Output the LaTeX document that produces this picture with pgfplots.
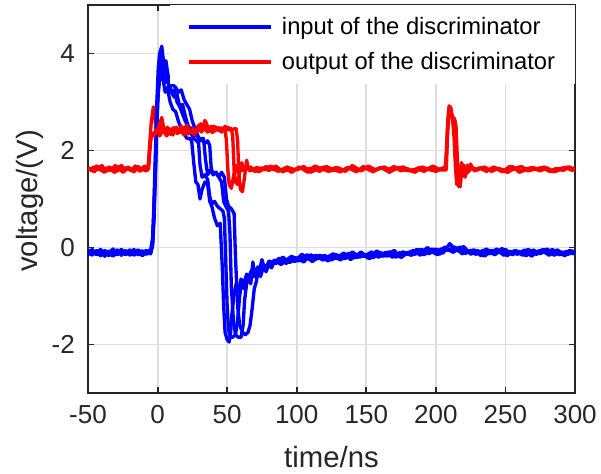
\documentclass[border=0pt]{standalone}
\usepackage{fontspec}
\setmainfont{Liberation Sans}
\usepackage{pgfplots}
\pgfplotsset{compat=1.18}

\definecolor{axgray}{RGB}{38,38,38}
\definecolor{gridgray}{RGB}{222,222,222}
\definecolor{tblue}{RGB}{0,0,255}
\definecolor{tred}{RGB}{255,0,0}

\begin{document}
\begin{tikzpicture}
\begin{axis}[
    name=ax,
    scale only axis,
    width=365.25pt, height=291pt,
    xmin=-50, xmax=300, ymin=-3, ymax=5,
    xtick={-50,0,50,100,150,200,250,300},
    xticklabels={-50,0,50,100,150,200,250,300},
    ytick={-2,0,2,4},
    yticklabels={-2,0,2,4},
    tick align=inside,
    major tick length=4.5pt,
    tick style={line width=1.4pt, color=axgray},
    axis line style={line width=1.6pt, color=axgray},
    grid=major,
    major grid style={line width=1.4pt, color=gridgray},
    ticklabel style={font=\fontsize{19.5}{22}\selectfont, color=axgray},
    xticklabel style={anchor=base, yshift=-22.8pt},
    yticklabel style={anchor=east, inner xsep=0pt, xshift=-9.75pt},
    xlabel={time/ns},
    ylabel={voltage/(V)},
    label style={font=\fontsize{22}{26}\selectfont, color=axgray},
    xlabel style={at={(axis description cs:0.5,-0.193)}, anchor=base},
    ylabel style={at={(axis description cs:-0.119,0.495)}, anchor=center},
    legend style={at={(1,1)}, anchor=north east, draw=none, fill=white,
        font=\fontsize{17.8}{20}\selectfont,
        inner xsep=12.75pt, inner ysep=7pt, row sep=7.75pt,
        cells={anchor=west, inner xsep=0pt, inner ysep=0pt, text height=13pt, text depth=4pt},
        /tikz/every odd column/.append style={column sep=5.25pt}},
    legend image code/.code={\draw[#1] (0pt,0pt) -- (61.5pt,0pt);},
    every axis plot/.append style={line width=2.5pt, line join=round},
]

% input of the discriminator, shot 1
\addplot[color=tblue] coordinates {
(-50,-0.05)(-47,-0.14)(-44,-0.08)(-41,-0.17)(-38,-0.06)(-35,-0.12)(-32,-0.03)(-29,-0.15)
(-26,-0.09)(-23,-0.13)(-20,-0.05)(-17,-0.16)(-14,-0.1)(-11,-0.07)(-8,-0.14)(-5,-0.08)
(-4,0)(-3,0.45)(-2,1.3)(-1,2.2)(0,3.0)(1,3.4)(2.5,3.6)(4,3.45)(5.5,3.2)(7,3.3)(9,3.0)
(11,2.85)(13,2.8)(15,2.6)(17,2.45)(19,2.35)(21,2.25)(23,2.25)(24.5,2.2)(26,1.75)(27.5,1.35)
(29,1.3)(30.5,1.0)(32,1.2)(34,1.35)(36,1.3)(37.5,0.95)(39,0.85)(41,0.6)(43,0.45)(45,0.5)
(46.5,-0.4)(47.5,-1.2)(48.5,-1.75)(50,-1.9)(51.5,-1.95)(52.5,-1.75)(53.5,-1.35)(55,-0.95)
(56.5,-0.75)(58,-0.9)(60,-0.65)(62,-0.75)(64,-0.55)(66,-0.6)(68,-0.45)(70,-0.55)(72,-0.4)
(74,-0.48)(76,-0.35)(78,-0.42)
(80,-0.28)(85,-0.33)(90,-0.20)(95,-0.31)(100,-0.21)(105,-0.30)(110,-0.15)(115,-0.23)
(120,-0.16)(125,-0.26)(130,-0.16)(135,-0.23)(140,-0.09)(145,-0.20)(150,-0.15)(155,-0.21)
(160,-0.10)(165,-0.18)(170,-0.06)(175,-0.21)(180,-0.10)(185,-0.14)(190,-0.04)(195,-0.13)
(200,-0.03)(205,-0.12)(210,0.08)(215,-0.07)(220,0.02)(225,-0.14)(230,-0.06)(235,-0.18)
(240,-0.06)(245,-0.11)(250,-0.04)(255,-0.15)(260,-0.08)(265,-0.17)(270,-0.05)(275,-0.13)
(280,-0.03)(285,-0.16)(290,-0.09)(295,-0.14)(300,-0.07)
};
\addlegendentry{input of the discriminator}

% output of the discriminator, shot 1
\addplot[color=tred] coordinates {
(-50,1.65)(-47,1.58)(-44,1.68)(-41,1.6)(-38,1.55)(-35,1.66)(-32,1.62)(-29,1.57)(-26,1.69)
(-23,1.6)(-20,1.64)(-17,1.56)(-14,1.67)(-11,1.61)(-8,1.58)
(-6.5,1.7)(-5.5,2.2)(-4.5,2.6)(-3,2.9)(-2,2.7)(-1,2.45)(0,2.35)(2,2.5)(4.5,2.38)(7,2.48)
(9.5,2.33)(12,2.45)(14.5,2.36)(17,2.5)(19.5,2.4)(22,2.34)(24.5,2.47)(27,2.38)(29.5,2.52)
(32,2.4)(34.5,2.6)(37,2.42)(39.5,2.37)(42,2.48)(44.5,2.4)(47,2.46)(48.5,2.42)(49.5,2.2)
(50.5,1.6)(51.5,1.3)(53,1.22)(54.5,1.45)(56,1.7)(57.5,1.55)(59,1.65)(61,1.58)
(65,1.66)(70,1.57)(75,1.64)(80,1.59)(85,1.68)(90,1.56)(95,1.63)(100,1.6)(105,1.67)(110,1.55)
(115,1.62)(120,1.66)(125,1.58)(130,1.64)(135,1.57)(140,1.69)(145,1.6)(150,1.63)(155,1.56)
(160,1.65)(165,1.59)(170,1.67)(175,1.58)(180,1.62)(185,1.55)(190,1.66)(195,1.61)(200,1.57)
(205,1.64)
(206.5,1.62)(207.5,1.9)(208.5,2.6)(209.5,2.92)(211,2.85)(212,2.6)(213,2.55)(214.5,2.2)
(215.5,1.5)(216.5,1.25)(217.5,1.5)(218.5,1.75)(219.5,1.55)(221,1.45)(222.5,1.7)(224,1.58)
(226,1.65)
(230,1.6)(235,1.66)(240,1.57)(245,1.63)(250,1.59)(255,1.67)(260,1.55)(265,1.62)(270,1.65)
(275,1.58)(280,1.64)(285,1.56)(290,1.61)(295,1.66)(300,1.6)
};
\addlegendentry{output of the discriminator}

% input, shot 2
\addplot[color=tblue, forget plot] coordinates {
(-50,-0.12)(-47,-0.04)(-44,-0.15)(-41,-0.09)(-38,-0.18)(-35,-0.07)(-32,-0.13)(-29,-0.05)
(-26,-0.16)(-23,-0.08)(-20,-0.12)(-17,-0.04)(-14,-0.15)(-11,-0.11)(-8,-0.06)(-5,-0.12)
(-3.5,0.1)(-2.5,0.8)(-1.5,1.8)(-0.5,2.8)(0.5,3.5)(2,3.8)(3.5,3.95)(5,3.6)(6.5,3.65)(8,3.35)
(10,3.2)(12,3.25)(14,3.0)(16,2.9)(18,2.95)(20,2.7)(22,2.5)(24,2.35)(26,2.25)(28,2.2)
(29.5,2.15)(30.5,1.7)(32,1.45)(34,1.5)(36,1.4)(37.5,1.05)(39,0.9)(41,0.95)(43,0.85)(45,0.8)
(47,0.75)(48,0.6)(49,-0.3)(50,-1.2)(51,-1.7)(52.5,-1.85)(54,-1.85)(56,-1.8)(57.5,-1.5)
(59,-1.0)(60.5,-0.7)(62,-0.85)(63.5,-0.6)(65,-0.7)(67,-0.5)(69,-0.6)(71,-0.45)(73,-0.5)
(75,-0.25)(77,-0.45)(79,-0.36)
(81.25,-0.39)(86.25,-0.26)(91.25,-0.29)(96.25,-0.18)(101.25,-0.28)(106.25,-0.18)
(111.25,-0.29)(116.25,-0.16)(121.25,-0.21)(126.25,-0.13)(131.25,-0.26)(136.25,-0.16)
(141.25,-0.21)(146.25,-0.09)(151.25,-0.22)(156.25,-0.12)(161.25,-0.18)(166.25,-0.09)
(171.25,-0.20)(176.25,-0.09)(181.25,-0.14)(186.25,-0.04)(191.25,-0.15)(196.25,-0.07)
(201.25,-0.15)(206.25,0.01)(211.25,-0.07)(216.25,-0.01)(221.25,-0.12)(226.25,-0.06)
(231.25,-0.14)(236.25,-0.03)(241.25,-0.12)(246.25,-0.05)(251.25,-0.17)(256.25,-0.07)
(261.25,-0.14)(266.25,-0.04)(271.25,-0.11)(276.25,-0.05)(281.25,-0.16)(286.25,-0.08)
(291.25,-0.15)(296.25,-0.06)(300,-0.12)
};

% input, shot 3
\addplot[color=tblue, forget plot] coordinates {
(-50,-0.09)(-47,-0.16)(-44,-0.06)(-41,-0.13)(-38,-0.1)(-35,-0.17)(-32,-0.08)(-29,-0.12)
(-26,-0.04)(-23,-0.15)(-20,-0.09)(-17,-0.13)(-14,-0.07)(-11,-0.17)(-8,-0.1)(-5,-0.05)
(-3.5,0.2)(-2.5,1.0)(-1.5,2.0)(-0.5,3.0)(0.5,3.7)(1.5,4.0)(3,4.15)(4,3.9)(5,3.75)(6,3.85)
(7.5,3.55)(9,3.5)(11,3.35)(13,3.3)(15,3.2)(17,3.25)(19,3.05)(21,2.95)(23,2.85)(25,2.6)
(27,2.45)(29,2.3)(31,2.2)(33,2.25)(34.5,1.8)(36,1.5)(38,1.6)(40,1.5)(42,1.55)(44,1.45)
(46,1.35)(47.5,0.95)(49,0.85)(51,0.75)(52,0.3)(53,-0.8)(54.5,-1.5)(56,-1.8)(58,-1.85)
(60,-1.85)(61.5,-1.6)(62.5,-1.1)(64,-0.75)(65.5,-0.6)(67,-0.75)(68.5,-0.3)(70,-0.6)
(72,-0.5)(74,-0.55)(76,-0.4)(78,-0.45)(80,-0.35)
(82.5,-0.34)(87.5,-0.22)(92.5,-0.33)(97.5,-0.20)(102.5,-0.25)(107.5,-0.15)(112.5,-0.26)
(117.5,-0.18)(122.5,-0.28)(127.5,-0.14)(132.5,-0.20)(137.5,-0.12)(142.5,-0.21)(147.5,-0.15)
(152.5,-0.23)(157.5,-0.07)(162.5,-0.18)(167.5,-0.09)(172.5,-0.19)(177.5,-0.12)(182.5,-0.16)
(187.5,-0.04)(192.5,-0.11)(197.5,-0.03)(202.5,-0.14)(207.5,-0.02)(212.5,-0.10)(217.5,0.01)
(222.5,-0.08)(227.5,-0.05)(232.5,-0.17)(237.5,-0.08)(242.5,-0.15)(247.5,-0.02)(252.5,-0.13)
(257.5,-0.06)(262.5,-0.16)(267.5,-0.09)(272.5,-0.14)(277.5,-0.04)(282.5,-0.12)(287.5,-0.05)
(292.5,-0.17)(297.5,-0.07)(300,-0.1)
};

% input, shot 4
\addplot[color=tblue, forget plot] coordinates {
(-50,-0.15)(-47,-0.08)(-44,-0.12)(-41,-0.04)(-38,-0.14)(-35,-0.1)(-32,-0.18)(-29,-0.09)
(-26,-0.13)(-23,-0.06)(-20,-0.16)(-17,-0.1)(-14,-0.05)(-11,-0.12)(-8,-0.09)(-5,-0.13)
(-3.5,0.05)(-2.5,0.6)(-1.5,1.5)(-0.5,2.5)(0.5,3.2)(2,3.6)(3.5,3.75)(5,3.5)(6.5,3.4)(8,3.45)
(10,3.2)(12,3.1)(14,3.15)(16,2.9)(18,2.75)(20,2.6)(22,2.5)(24,2.4)(26,2.3)(28,2.35)(30,2.2)
(32,2.25)(34,2.15)(36,2.2)(37.5,2.1)(38.5,1.65)(40,1.5)(42,1.55)(44,1.45)(46,1.55)(48,1.45)
(49.5,1.0)(51,0.85)(53,0.8)(55,0.7)(56,-0.2)(57.5,-1.2)(59,-1.6)(61,-1.75)(63,-1.8)
(65,-1.75)(66.5,-1.6)(68,-1.25)(69.5,-0.85)(71,-0.7)(72.5,-0.45)(74,-0.6)(76,-0.4)(78,-0.5)
(80,-0.35)(82,-0.42)
(83.75,-0.26)(88.75,-0.35)(93.75,-0.24)(98.75,-0.29)(103.75,-0.14)(108.75,-0.24)
(113.75,-0.16)(118.75,-0.26)(123.75,-0.18)(128.75,-0.23)(133.75,-0.11)(138.75,-0.25)
(143.75,-0.14)(148.75,-0.18)(153.75,-0.09)(158.75,-0.20)(163.75,-0.10)(168.75,-0.20)
(173.75,-0.11)(178.75,-0.13)(183.75,-0.06)(188.75,-0.16)(193.75,0.0)(198.75,-0.11)
(203.75,-0.03)(208.75,-0.06)(213.75,0.01)(218.75,-0.13)(223.75,-0.07)(228.75,-0.14)
(233.75,-0.06)(238.75,-0.13)(243.75,-0.03)(248.75,-0.16)(253.75,-0.08)(258.75,-0.14)
(263.75,-0.05)(268.75,-0.18)(273.75,-0.07)(278.75,-0.11)(283.75,-0.04)(288.75,-0.15)
(293.75,-0.08)(298.75,-0.13)(300,-0.1)
};

% output, shot 2
\addplot[color=tred, forget plot] coordinates {
(-49,1.58)(-46,1.66)(-43,1.6)(-40,1.69)(-37,1.57)(-34,1.63)(-31,1.55)(-28,1.67)(-25,1.6)
(-22,1.65)(-19,1.58)(-16,1.68)(-13,1.59)(-10,1.64)(-7,1.6)
(-5.5,2.1)(-4.5,2.3)(-3,2.35)(-1,2.4)(1,2.5)(3,2.68)(4.5,2.45)(6,2.35)(8.5,2.45)(11,2.32)
(13.5,2.48)(16,2.37)(18.5,2.44)(21,2.52)(23.5,2.36)(26,2.45)(28.5,2.4)(31,2.55)(33.5,2.45)
(36,2.38)(38.5,2.5)(41,2.4)(43.5,2.47)(46,2.38)(48.5,2.5)(51,2.42)(53,2.45)(54,2.3)
(55,1.6)(56,1.35)(57.5,1.3)(59,1.55)(60.5,1.75)(62,1.6)(64,1.65)
(66.5,1.58)(71.5,1.65)(76.5,1.6)(81.5,1.68)(86.5,1.57)(91.5,1.63)(96.5,1.55)(101.5,1.66)
(106.5,1.61)(111.5,1.64)(116.5,1.57)(121.5,1.67)(126.5,1.6)(131.5,1.56)(136.5,1.65)
(141.5,1.62)(146.5,1.58)(151.5,1.68)(156.5,1.6)(161.5,1.64)(166.5,1.55)(171.5,1.63)
(176.5,1.66)(181.5,1.59)(186.5,1.62)(191.5,1.57)(196.5,1.65)(201.5,1.6)
(207,1.65)(208,2.2)(209,2.7)(210.5,2.8)(212,2.7)(213.5,2.65)(214.5,2.5)(215.5,1.8)
(216.5,1.35)(217.5,1.25)(218.5,1.55)(220,1.7)(221.5,1.5)(223,1.6)(225,1.72)(227,1.6)
(231.5,1.64)(236.5,1.57)(241.5,1.66)(246.5,1.6)(251.5,1.55)(256.5,1.63)(261.5,1.67)
(266.5,1.58)(271.5,1.62)(276.5,1.65)(281.5,1.57)(286.5,1.63)(291.5,1.59)(296.5,1.66)(300,1.6)
};

% output, shot 3
\addplot[color=tred, forget plot] coordinates {
(-50,1.6)(-48.5,1.62)(-45.5,1.56)(-42.5,1.67)(-39.5,1.6)(-36.5,1.64)(-33.5,1.58)(-30.5,1.69)
(-27.5,1.61)(-24.5,1.55)(-21.5,1.66)(-18.5,1.6)(-15.5,1.63)(-12.5,1.57)(-9.5,1.68)(-6.5,1.62)
(-5,2.2)(-4,2.35)(-2.5,2.3)(0,2.45)(1.5,2.3)(4,2.42)(6.5,2.3)(9,2.4)(11.5,2.47)(14,2.35)
(16.5,2.42)(19,2.32)(21.5,2.45)(24,2.4)(26.5,2.33)(29,2.46)(31.5,2.38)(34,2.62)(35.5,2.45)
(38,2.4)(40.5,2.5)(43,2.42)(45.5,2.47)(48,2.4)(50.5,2.48)(53,2.42)(55.5,2.45)(56.5,2.45)
(57.5,2.2)(58.5,1.5)(59.5,1.2)(61,1.15)(62.5,1.45)(64,1.8)(65.5,1.6)(67,1.66)
(68,1.63)(73,1.56)(78,1.67)(83,1.61)(88,1.58)(93,1.66)(98,1.6)(103,1.64)(108,1.55)(113,1.68)
(118,1.62)(123,1.57)(128,1.65)(133,1.6)(138,1.63)(143,1.56)(148,1.67)(153,1.59)(158,1.62)
(163,1.66)(168,1.58)(173,1.64)(178,1.6)(183,1.57)(188,1.65)(193,1.61)(198,1.68)(203,1.6)
(207.5,1.6)(208.5,2.4)(209.5,2.85)(210.5,2.9)(212,2.65)(213,2.3)(214,1.7)(215,1.3)
(216.5,1.35)(218,1.7)(219.5,1.5)(221,1.62)(223,1.55)(225,1.66)
(228,1.58)(233,1.65)(238,1.6)(243,1.63)(248,1.56)(253,1.67)(258,1.61)(263,1.58)(268,1.64)
(273,1.6)(278,1.66)(283,1.57)(288,1.62)(293,1.65)(298,1.59)(300,1.62)
};

\end{axis}
\pgfresetboundingbox
\path ([xshift=-66pt,yshift=-60.75pt]ax.south west) rectangle ([xshift=19.5pt,yshift=3.75pt]ax.north east);
\end{tikzpicture}
\end{document}
